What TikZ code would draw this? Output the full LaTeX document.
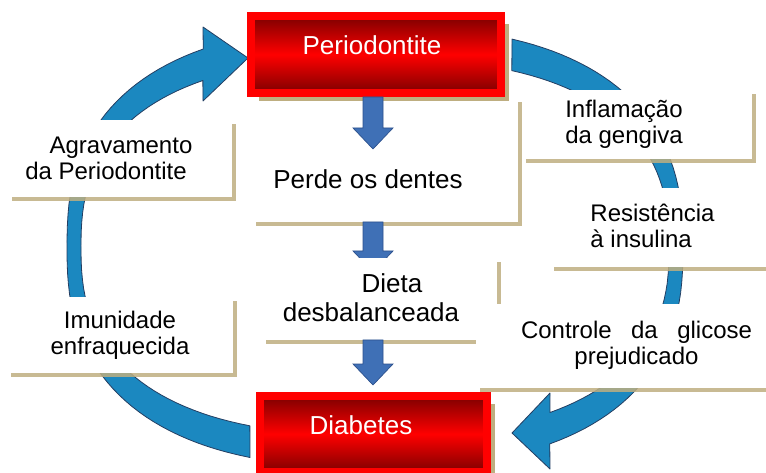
\documentclass[tikz,border=0pt]{standalone}
\usepackage{fontspec}
\setmainfont{Liberation Sans}
\usepackage{tikz}
\usetikzlibrary{calc,shadows}
\definecolor{ringblue}{RGB}{27,136,192}
\definecolor{ringedge}{RGB}{36,62,98}
\definecolor{downblue}{RGB}{63,112,182}
\definecolor{downedge}{RGB}{44,80,140}
\definecolor{shadowtan}{RGB}{190,174,128}
\definecolor{boxred}{RGB}{255,0,0}
\definecolor{deepred}{RGB}{125,0,0}
\pgfmathdeclarefunction{ringx}{2}{\pgfmathparse{375+#2*(cos(#1)<0?-1:1)*(abs(cos(#1))+0.00001)^0.8}}
\pgfmathdeclarefunction{ringy}{2}{\pgfmathparse{247-#2*(sin(#1)<0?-1:1)*(abs(sin(#1))+0.00001)^0.8}}

\begin{document}
\begin{tikzpicture}[x=0.75pt,y=-0.75pt,
    ring/.style={fill=ringblue,draw=ringedge,line width=0.6pt,line join=round},
    redbox/.style={draw=boxred,line width=6pt,outer sep=0pt,
      top color=deepred,bottom color=deepred,middle color=boxred,
      drop shadow={shadow xshift=6pt,shadow yshift=-6pt,fill=shadowtan,opacity=1}},
    redtext/.style={text=white,font=\fontsize{19.5pt}{23pt}\selectfont,inner sep=0pt},
    whitebox/.style={fill=white,outer sep=0pt,
      drop shadow={shadow xshift=3pt,shadow yshift=-3pt,fill=shadowtan,opacity=0.85}},
    bigtext/.style={font=\fontsize{19.5pt}{21.75pt}\selectfont,align=center,inner sep=0pt},
    sidetext/.style={font=\fontsize{18pt}{19.5pt}\selectfont,inner sep=0pt},
    blockdown/.style={fill=downblue,draw=downedge,line width=0.5pt,to path={
      let \p1=(\tikztostart),\p2=(\tikztotarget) in
      (\x1-7.5pt,\y1) -- (\x1-7.5pt,\y2+15.75pt) -- (\x1-15pt,\y2+15.75pt) -- (\x2,\y2)
      -- (\x1+15pt,\y2+15.75pt) -- (\x1+7.5pt,\y2+15.75pt) -- (\x1+7.5pt,\y1) -- cycle}}]
\useasboundingbox (0,0) rectangle (766,473);
% circular arrows
\draw[ring] plot[domain=251.1:118.8,samples=60] ({ringx(\x,308)},{ringy(\x,220)})
  -- (203,27) -- (248,58) -- (203,101)
  -- plot[domain=120.8:249.9,samples=60] ({ringx(\x,294)},{ringy(\x,188)}) -- cycle;
\draw[ring] plot[domain=68.7:-60.5,samples=60] ({ringx(\x,308)},{ringy(\x,220)})
  -- (550,469) -- (512,433) -- (550,393)
  -- plot[domain=-58.5:67.4,samples=60] ({ringx(\x,294)},{ringy(\x,188)}) -- cycle;
% middle column
\node[whitebox,minimum width=199.5pt,minimum height=93pt] (perde) at (385,160) {};
\node[bigtext] (perdetxt) at (368,179.5) {Perde os dentes};
\node[redbox,minimum width=187.5pt,minimum height=57.75pt] (perio) at (376,54.5) {};
\node[redtext] (periotxt) at (372,45.5) {Periodontite};
\node[redbox,minimum width=170.25pt,minimum height=57pt] (diab) at (373.5,434) {};
\node[redtext] (diabtxt) at (361,425) {Diabetes};
\coordinate (tip1) at (373,149);
\coordinate (tip2) at (373,272);
\coordinate (tip3) at (373,385);
\draw[blockdown] ([yshift=-3pt]perio.south -| tip1) to (tip1);
\draw[blockdown] (perde.south -| tip2) to (tip2);
\node[whitebox,minimum width=176.25pt,minimum height=61.5pt] (dieta) at (379.5,299) {};
\node[bigtext] (dietatxt) at (371,298) {\hspace*{31.5pt}Dieta\\desbalanceada};
\draw[blockdown] (dieta.south -| tip3) to (tip3);
% side boxes
\node[whitebox,minimum width=168pt,minimum height=57.75pt] (agrav) at (120,158.5) {};
\node[sidetext,align=center] (agravtxt) at (121,158.5) {Agravamento\\da Periodontite\hspace*{22.5pt}};
\node[whitebox,minimum width=169.5pt,minimum height=57pt] (imun) at (120,335) {};
\node[sidetext,align=center] (imuntxt) at (120,335.5) {Imunidade\\enfraquecida};
\node[whitebox,minimum width=172.5pt,minimum height=51.75pt] (inflam) at (637,124.5) {};
\node[sidetext,align=left] (inflamtxt) at (624,124) {Inflamação\\da gengiva};
\node[whitebox,minimum width=187.5pt,minimum height=59.25pt] (resist) at (675,227.5) {};
\node[sidetext,align=left] (resisttxt) at (652.5,226) {Resistência\\à insulina};
\node[whitebox,minimum width=243pt,minimum height=63pt] (contr) at (638,346) {};
\node[sidetext,text width=173.25pt,align=center] (contrtxt) at (636.5,345)
  {Controle\hfill da\hfill glicose\\prejudicado\hspace*{7.5pt}};
\end{tikzpicture}
\end{document}
